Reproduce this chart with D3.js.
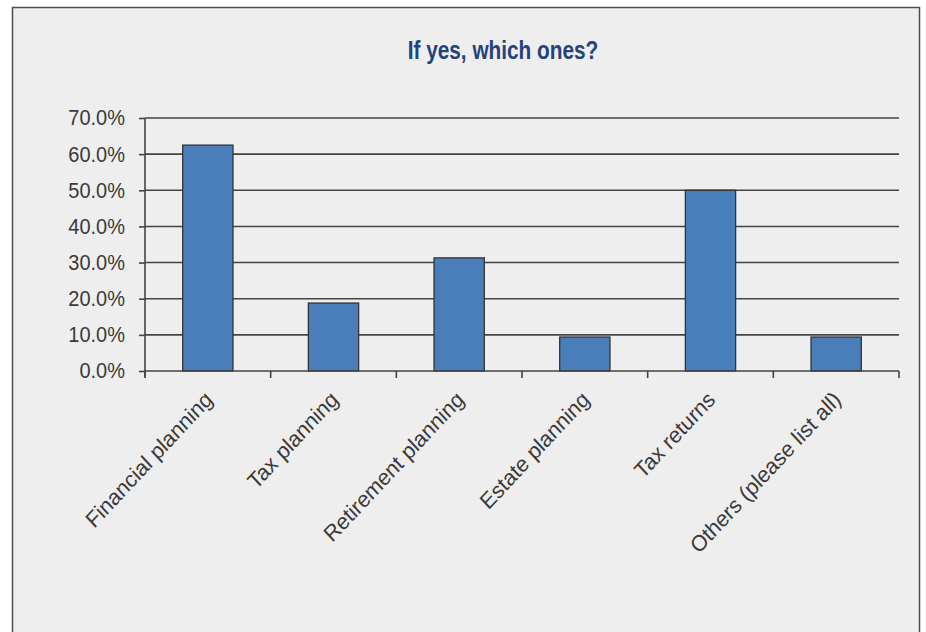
<!DOCTYPE html>
<html>
<head>
<meta charset="utf-8">
<script src="https://cdn.jsdelivr.net/npm/d3@7"></script>
<style>
  body { margin: 0; background: #fff; }
  .tick text { font-family: "Liberation Sans", Arial, sans-serif; }
</style>
</head>
<body>
<div id="chart"></div>
<script>
var categories = ["Financial planning", "Tax planning", "Retirement planning", "Estate planning", "Tax returns", "Others (please list all)"];
var shares = [0.625, 0.188, 0.313, 0.094, 0.50, 0.094];
var yTicks = [0, 0.1, 0.2, 0.3, 0.4, 0.5, 0.6, 0.7];
var chartTitle = "If yes, which ones?";

var svgWidth = 926;
var svgHeight = 632;

var margin = { top: 118, right: 27, bottom: 261, left: 145 };
var width = svgWidth - margin.left - margin.right;
var height = svgHeight - margin.top - margin.bottom;

// the source image looks a bit stretched vertically
var stretch = 1.07;

var svg = d3.select("#chart")
  .append("svg")
  .attr("width", svgWidth)
  .attr("height", svgHeight);

// grey panel with dark frame (runs off the bottom)
svg.append("rect")
  .attr("x", 12.5)
  .attr("y", 7.5)
  .attr("width", 907)
  .attr("height", 640)
  .attr("fill", "#eeeeee")
  .attr("stroke", "#4d4d4d")
  .attr("stroke-width", 1.5);

// title: narrow bold look, no narrow font installed so squeeze it
svg.append("text")
  .attr("transform", "translate(503, 59) scale(0.8, 1)")
  .attr("text-anchor", "middle")
  .attr("font-family", "'Liberation Sans', Arial, sans-serif")
  .attr("font-weight", "bold")
  .attr("font-size", 26)
  .attr("fill", "#24437a")
  .text(chartTitle);

var chartGroup = svg.append("g")
  .attr("transform", `translate(${margin.left}, ${margin.top})`);

var xScale = d3.scaleBand()
  .domain(categories)
  .range([0, width])
  .paddingInner(0.6)
  .paddingOuter(0.3);

var yScale = d3.scaleLinear()
  .domain([0, 0.7])
  .range([height, 0]);

// gridlines
chartGroup.append("g")
  .selectAll("line")
  .data(yTicks.slice(1))
  .enter()
  .append("line")
  .attr("x1", 0)
  .attr("x2", width)
  .attr("y1", d => yScale(d))
  .attr("y2", d => yScale(d))
  .attr("stroke", "#444")
  .attr("stroke-width", 1.6);

// bars
chartGroup.selectAll("rect.bar")
  .data(shares)
  .enter()
  .append("rect")
  .attr("class", "bar")
  .attr("x", (d, i) => xScale(categories[i]))
  .attr("y", d => yScale(d))
  .attr("width", xScale.bandwidth())
  .attr("height", d => height - yScale(d))
  .attr("fill", "#4a7ebb")
  .attr("stroke", "#333")
  .attr("stroke-width", 1.3);

// y axis
var leftAxis = d3.axisLeft(yScale)
  .tickValues(yTicks)
  .tickFormat(d3.format(".1%"))
  .tickSize(6)
  .tickPadding(14);

var yAxisG = chartGroup.append("g").call(leftAxis);
yAxisG.select(".domain").attr("stroke", "#444").attr("stroke-width", 1.6).attr("d", `M0,${height + 6}V0`);
yAxisG.selectAll(".tick line").attr("stroke", "#444").attr("stroke-width", 1.6);
yAxisG.selectAll(".tick text")
  .attr("font-size", 20)
  .attr("transform", `scale(1, ${stretch})`)
  .attr("fill", "#3a3a3a");

// x axis, ticks between categories
var xBoundaries = d3.range(categories.length + 1).map(i => i * width / categories.length);
var xAxisG = chartGroup.append("g").attr("transform", `translate(0, ${height})`);
xAxisG.append("line")
  .attr("x1", 0).attr("x2", width)
  .attr("stroke", "#444").attr("stroke-width", 1.6);
xAxisG.selectAll("line.tk")
  .data(xBoundaries)
  .enter()
  .append("line")
  .attr("class", "tk")
  .attr("x1", d => d).attr("x2", d => d)
  .attr("y1", 0).attr("y2", 7)
  .attr("stroke", "#444").attr("stroke-width", 1.6);

xAxisG.selectAll("text")
  .data(categories)
  .enter()
  .append("text")
  .attr("transform", d => `translate(${xScale(d) + xScale.bandwidth() / 2 + 6}, 30) scale(1, ${stretch}) rotate(-45)`)
  .attr("text-anchor", "end")
  .attr("font-family", "'Liberation Sans', Arial, sans-serif")
  .attr("font-size", 21)
  .attr("fill", "#3a3a3a")
  .text(d => d);
</script>
</body>
</html>
